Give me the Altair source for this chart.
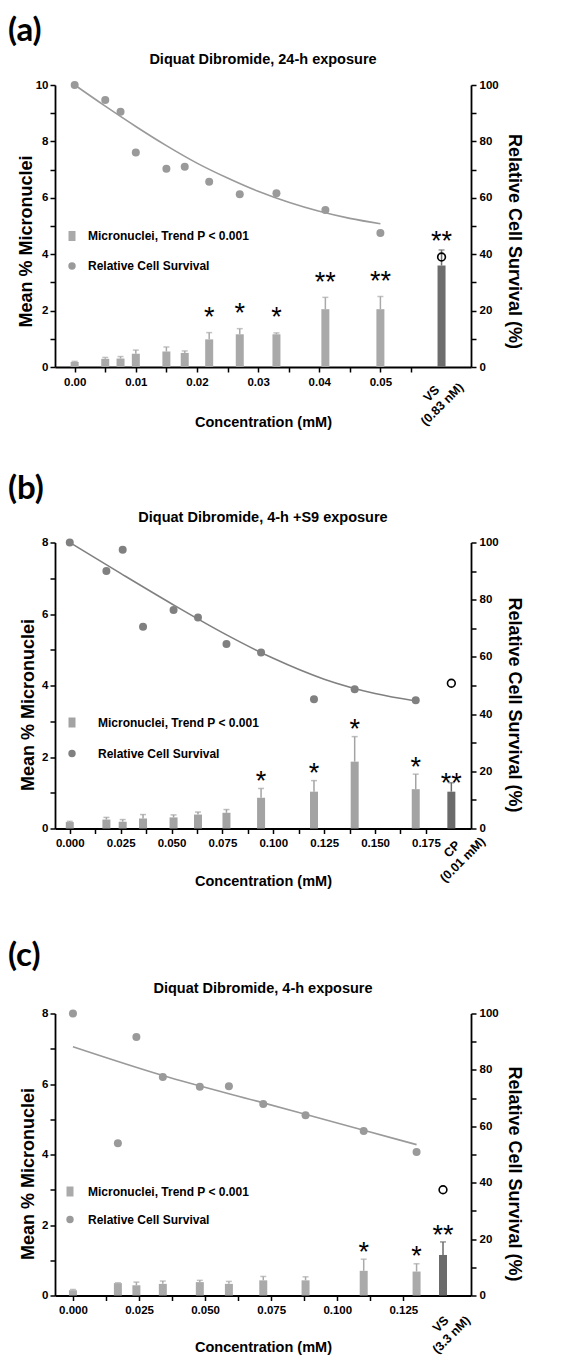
import altair as alt
import pandas as pd

SANS = "Liberation Sans"
BIG = "Lato"

LEGEND_LABELS = ["Micronuclei, Trend P < 0.001", "Relative Cell Survival"]
X_TITLE = "Concentration (mM)"
YL_TITLE = "Mean % Micronuclei"
YR_TITLE = "Relative Cell Survival (%)"

# ---------------- Panel (a) ----------------
A_LETTER = "(a)"
A_TITLE = "Diquat Dibromide, 24-h exposure"
A_CONC = [0.0, 0.005, 0.0075, 0.010, 0.015, 0.018, 0.022, 0.027, 0.033, 0.041, 0.050]
A_MN = [0.18, 0.29, 0.30, 0.47, 0.55, 0.50, 0.98, 1.16, 1.16, 2.05, 2.05]
A_ERR = [0.02, 0.05, 0.07, 0.13, 0.16, 0.07, 0.24, 0.20, 0.05, 0.42, 0.45]
A_STARS = ["", "", "", "", "", "", "*", "*", "*", "**", "**"]
A_SURV = [100, 94.7, 90.5, 76.1, 70.3, 71.0, 65.7, 61.3, 61.6, 55.7, 47.5]
A_FIT_X = [0.0, 0.005, 0.01, 0.015, 0.02, 0.025, 0.03, 0.035, 0.04, 0.045, 0.05]
A_FIT_Y = [100, 92.5, 85.3, 78.5, 72.3, 67.0, 62.3, 58.4, 55.2, 52.7, 50.8]
A_CTRL = {"conc": 0.060, "mn": 3.6, "err": 0.55, "stars": "**", "surv": 39.0,
          "label": "VS\n(0.83 nM)"}

# ---------------- Panel (b) ----------------
B_LETTER = "(b)"
B_TITLE = "Diquat Dibromide, 4-h +S9 exposure"
B_CONC = [0.0, 0.018, 0.026, 0.036, 0.051, 0.063, 0.077, 0.094, 0.120, 0.140, 0.170]
B_MN = [0.18, 0.25, 0.19, 0.28, 0.31, 0.39, 0.44, 0.86, 1.03, 1.87, 1.10]
B_ERR = [0.02, 0.06, 0.06, 0.11, 0.07, 0.07, 0.09, 0.26, 0.31, 0.70, 0.42]
B_STARS = ["", "", "", "", "", "", "", "*", "*", "*", "*"]
B_SURV = [100, 90.0, 97.5, 70.5, 76.4, 73.8, 64.5, 61.5, 45.2, 48.7, 44.8]
B_FIT_X = [0.0, 0.025, 0.05, 0.075, 0.1, 0.125, 0.15, 0.17]
B_FIT_Y = [100, 89.2, 78.6, 68.5, 59.5, 52.2, 47.2, 44.6]
B_CTRL = {"conc": 0.1875, "mn": 1.03, "err": 0.25, "stars": "**", "surv": 50.8,
          "label": "CP\n(0.01 mM)"}

# ---------------- Panel (c) ----------------
C_LETTER = "(c)"
C_TITLE = "Diquat Dibromide, 4-h exposure"
C_CONC = [0.0, 0.017, 0.024, 0.034, 0.048, 0.059, 0.072, 0.088, 0.110, 0.130]
C_MN = [0.15, 0.35, 0.29, 0.33, 0.38, 0.33, 0.43, 0.43, 0.70, 0.68]
C_ERR = [0.02, 0.01, 0.09, 0.08, 0.05, 0.07, 0.11, 0.10, 0.33, 0.22]
C_STARS = ["", "", "", "", "", "", "", "", "*", "*"]
C_SURV = [100, 54.0, 91.7, 77.5, 74.0, 74.2, 67.9, 63.9, 58.3, 50.9]
C_FIT_X = [0.0, 0.034, 0.072, 0.11, 0.13]
C_FIT_Y = [88.2, 78.0, 68.3, 58.6, 53.5]
C_CTRL = {"conc": 0.140, "mn": 1.15, "err": 0.37, "stars": "**", "surv": 37.5,
          "label": "VS\n(3.3 nM)"}

SQ_PATH = "M-0.35,-0.5L0.35,-0.5L0.35,0.5L-0.35,0.5Z"


def panel(letter, title, conc, mn, err, stars, surv, fit_x, fit_y, ctrl,
          ymax, xdom, xstep, xmax_tick, xfmt, xmult, W, H,
          bar_c, ctrl_c, pt_c, line_c, star_dy, ctrl_star_dy, lab_off, leg, xtp, yltp, let_y,
          ytitle_shift):
    bars = pd.DataFrame({"conc": conc, "mn": mn, "err": err, "stars": stars})
    pts = pd.DataFrame({"conc": conc, "surv": surv})
    fit = pd.DataFrame({"conc": fit_x, "surv": fit_y})
    cdf = pd.DataFrame({k: [v] for k, v in ctrl.items()})
    ttl = pd.DataFrame({"t": [title]})
    let = pd.DataFrame({"t": [letter]})
    leg_df = pd.DataFrame({"t": LEGEND_LABELS})

    n = int(round(xmax_tick / xstep))
    xvals = [round(i * xstep, 5) for i in range(n + 1)]
    x_axis = alt.Axis(
        values=xvals, format=xfmt,
        labelExpr=f"abs(datum.value*{xmult} - round(datum.value*{xmult})) < 0.001 ? datum.label : ''",
        title=X_TITLE, titleFont=SANS, titleFontSize=14.5, titleFontWeight="bold",
        titlePadding=xtp, labelFont=SANS, labelFontSize=11.5, labelFontWeight="bold",
        labelPadding=4, tickSize=5, tickWidth=1.5, domainWidth=1.8, grid=False,
        labelFlush=False, labelOverlap=False, labelBound=False)
    X = alt.X("conc:Q", scale=alt.Scale(domain=xdom, nice=False, zero=False), axis=x_axis)

    yl_axis = alt.Axis(
        values=list(range(0, ymax + 1)),
        labelExpr="datum.value % 2 == 0 ? datum.label : ''",
        title=YL_TITLE, titleFont=SANS, titleFontSize=18, titleFontWeight="bold",
        titlePadding=yltp, titleY=H / 2 + ytitle_shift,
        labelFont=SANS, labelFontSize=11.5, labelFontWeight="bold",
        labelPadding=2, tickSize=5, tickWidth=1.5, domainWidth=1.8, grid=False,
        labelOverlap=False, labelFlush=False)
    yl_scale = alt.Scale(domain=[0, ymax], nice=False)
    YL = alt.Y("mn:Q", scale=yl_scale, axis=yl_axis)
    YLtop = alt.Y("top:Q", scale=yl_scale, axis=yl_axis)

    yr_axis = alt.Axis(
        orient="right", values=list(range(0, 101, 10)),
        labelExpr="datum.value % 20 == 0 ? datum.label : ''",
        title=YR_TITLE, titleFont=SANS, titleFontSize=18, titleFontWeight="bold",
        titlePadding=6, titleY=H / 2 + ytitle_shift,
        labelFont=SANS, labelFontSize=11.5, labelFontWeight="bold",
        labelPadding=3, tickSize=5, tickWidth=1.5, domainWidth=1.8, grid=False,
        labelOverlap=False, labelFlush=False)
    YR = alt.Y("surv:Q", scale=alt.Scale(domain=[0, 100], nice=False), axis=yr_axis)

    def bar_group(df, color, sdy):
        base = alt.Chart(df).transform_calculate(top="datum.mn + datum.err")
        b = base.mark_bar(size=8, color=color).encode(x=X, y=YL)
        r = base.mark_rule(color=color, strokeWidth=1.5).encode(x=X, y=YL, y2="top:Q")
        cap = base.mark_tick(color=color, orient="horizontal", size=6, thickness=1.5).encode(x=X, y=YLtop)
        s = base.mark_text(font=SANS, fontSize=27, baseline="alphabetic", dy=sdy,
                           color="black").encode(x=X, y=YLtop, text="stars:N")
        return [b, r, cap, s]

    left_layers = bar_group(bars, bar_c, star_dy) + bar_group(cdf, ctrl_c, ctrl_star_dy)

    lab = alt.Chart(cdf).mark_text(
        font=SANS, fontSize=12.5, fontWeight="bold", lineBreak="\n",
        lineHeight=15, align="center", baseline="middle",
        dx=lab_off[0] * 0.707, dy=lab_off[0] * 0.707 - 7.5).encode(
        x=X, y=alt.value(H + lab_off[1]), text="label:N", angle=alt.value(315))
    t = alt.Chart(ttl).mark_text(font=SANS, fontSize=14.5, fontWeight="bold",
                                 align="center", baseline="middle").encode(
        x=alt.value(W / 2), y=alt.value(-25), text="t:N")
    lt = alt.Chart(let).mark_text(font=BIG, fontSize=33, fontWeight="bold",
                                  align="left", baseline="alphabetic").encode(
        x=alt.value(-47), y=alt.value(let_y), text="t:N")

    lx, ly1, ly2, ltx = leg
    sq = alt.Chart(leg_df.iloc[[0]]).mark_point(shape=SQ_PATH, filled=True, size=400,
                                                 color=bar_c, opacity=1).encode(
        x=alt.value(lx), y=alt.value(ly1))
    ci = alt.Chart(leg_df.iloc[[1]]).mark_circle(size=55, color=pt_c, opacity=1).encode(
        x=alt.value(lx), y=alt.value(ly2))
    lt1 = alt.Chart(leg_df.iloc[[0]]).mark_text(font=SANS, fontSize=12, fontWeight="bold",
                                                 align="left", baseline="middle").encode(
        x=alt.value(ltx), y=alt.value(ly1), text="t:N")
    lt2 = alt.Chart(leg_df.iloc[[1]]).mark_text(font=SANS, fontSize=12, fontWeight="bold",
                                                 align="left", baseline="middle").encode(
        x=alt.value(ltx), y=alt.value(ly2), text="t:N")

    left = alt.layer(*left_layers, lab, t, lt, sq, ci, lt1, lt2)

    line = alt.Chart(fit).mark_line(color=line_c, strokeWidth=1.6, interpolate="monotone").encode(x=X, y=YR)
    dots = alt.Chart(pts).mark_circle(size=64, color=pt_c, opacity=1).encode(x=X, y=YR)
    oc = alt.Chart(cdf).mark_point(shape="circle", filled=False, color="black", strokeWidth=1.6,
                                   size=60, opacity=1).encode(x=X, y=YR)
    right = alt.layer(line, dots, oc)

    return alt.layer(left, right).resolve_scale(y="independent").properties(width=W, height=H)


pa = panel(A_LETTER, A_TITLE, A_CONC, A_MN, A_ERR, A_STARS, A_SURV, A_FIT_X, A_FIT_Y, A_CTRL,
           10, [-0.0024, 0.0640], 0.005, 0.055, ".2f", 100, 416, 282,
           "#a9a9a9", "#6d6d6d", "#9a9a9a", "#9a9a9a", -6.5, 0.5, (-4.7, 32), (17, 151, 181, 33),
           27.5, 0, -44, 15)
pb = panel(B_LETTER, B_TITLE, B_CONC, B_MN, B_ERR, B_STARS, B_SURV, B_FIT_X, B_FIT_Y, B_CTRL,
           8, [-0.0048, 0.1947], 0.0125, 0.175, ".3f", 40, 416, 286,
           "#a3a3a3", "#6b6b6b", "#808080", "#808080", 1.5, 9, (6, 26), (17, 180, 211, 43),
           25, 4, -44, 19)
pc = panel(C_LETTER, C_TITLE, C_CONC, C_MN, C_ERR, C_STARS, C_SURV, C_FIT_X, C_FIT_Y, C_CTRL,
           8, [-0.0049, 0.1487], 0.0125, 0.125, ".3f", 40, 416, 282,
           "#aaaaaa", "#6b6b6b", "#9a9a9a", "#9a9a9a", 1.5, 2, (3, 34), (15, 178, 206, 33),
           24, 4, -48, 19)

top_two = alt.vconcat(pa, pb, spacing=43.5)
chart = alt.vconcat(top_two, pc, spacing=51.5).properties(
    padding={"left": 0, "top": 7, "right": 5, "bottom": 0}
).configure_view(stroke=None).configure_axis(
    domainColor="black", tickColor="black", labelColor="black", titleColor="black")

chart.save("out.html", embed_options={"renderer": "svg", "actions": False})
